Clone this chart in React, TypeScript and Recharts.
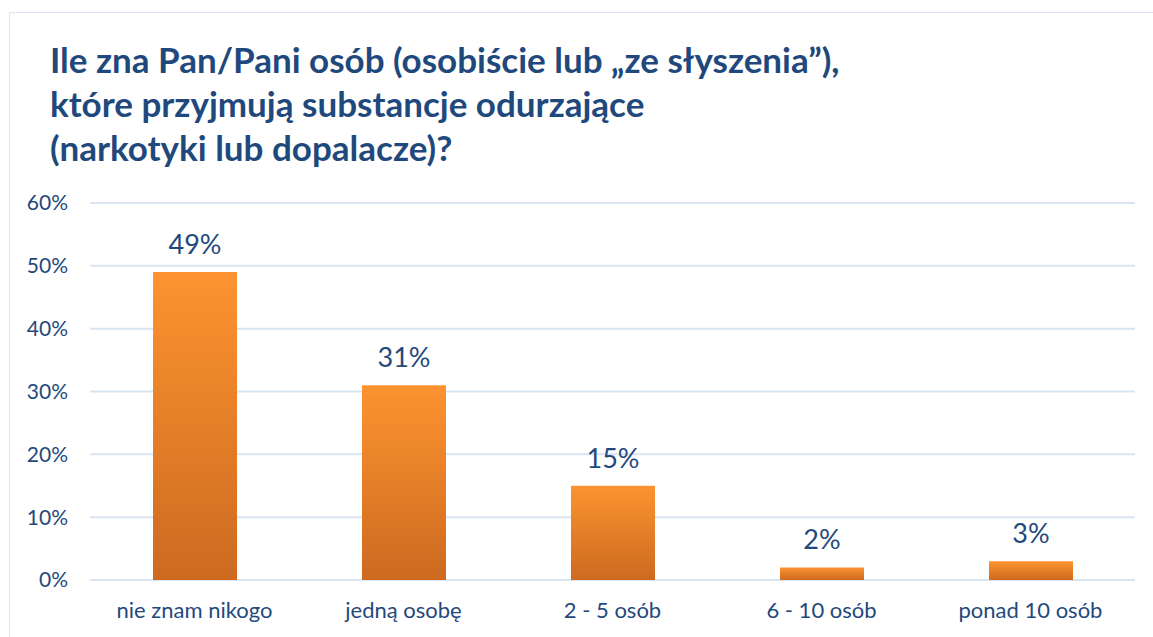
import { BarChart, Bar, XAxis, YAxis, CartesianGrid, LabelList } from "recharts";

const categories = ["nie znam nikogo", "jedną osobę", "2 - 5 osób", "6 - 10 osób", "ponad 10 osób"];
const shares = [49, 31, 15, 2, 3];
const yTicks = [0, 10, 20, 30, 40, 50, 60];
const titleLines = [
  "Ile zna Pan/Pani osób (osobiście lub „ze słyszenia”),",
  "które przyjmują substancje odurzające",
  "(narkotyki lub dopalacze)?",
];

const data = categories.map((name, i) => ({ name, value: shares[i] }));

const FONT = "Lato, 'Open Sans', sans-serif";
const BLUE = "#1f497d";

export default function App() {
  return (
    <div
      style={{
        position: "absolute",
        left: 0,
        top: 0,
        width: 1153,
        height: 637,
        overflow: "hidden",
        background: "#fff",
        fontFamily: FONT,
      }}
    >
      <div
        style={{
          position: "absolute",
          left: 9,
          top: 12,
          width: 1300,
          height: 800,
          border: "1px solid #dbe6f4",
        }}
      />
      <div
        style={{
          position: "absolute",
          left: 50,
          top: 37,
          color: BLUE,
          fontWeight: 700,
          fontSize: 35,
          lineHeight: "44px",
          whiteSpace: "nowrap",
        }}
      >
        {titleLines.map((t) => (
          <div key={t}>{t}</div>
        ))}
      </div>
      <div style={{ position: "absolute", left: 0, top: 0 }}>
        <BarChart
          width={1153}
          height={637}
          data={data}
          margin={{ top: 203, right: 18, bottom: 0, left: 0 }}
          barCategoryGap="30%"
        >
          <defs>
            <linearGradient id="barFill" x1="0" y1="0" x2="0" y2="1">
              <stop offset="0%" stopColor="#fd9330" />
              <stop offset="100%" stopColor="#cd6a20" />
            </linearGradient>
          </defs>
          <CartesianGrid horizontal vertical={false} stroke="#d9e4f2" strokeWidth={2} />
          <XAxis
            dataKey="name"
            height={57}
            axisLine={false}
            tickLine={false}
            tickSize={0}
            tickMargin={22}
            tick={{ fill: BLUE, fontSize: 22, fontFamily: FONT }}
          />
          <YAxis
            width={90}
            domain={[0, 60]}
            ticks={yTicks}
            axisLine={false}
            tickLine={false}
            tickSize={0}
            tickMargin={22}
            tickFormatter={(v: number) => `${v}%`}
            tick={{ fill: BLUE, fontSize: 21, fontFamily: FONT }}
          />
          <Bar dataKey="value" fill="url(#barFill)" isAnimationActive={false} barSize={84}>
            <LabelList
              dataKey="value"
              position="top"
              offset={18}
              formatter={(v: number) => `${v}%`}
              style={{ fill: BLUE, fontSize: 27, fontFamily: FONT }}
            />
          </Bar>
        </BarChart>
      </div>
    </div>
  );
}
